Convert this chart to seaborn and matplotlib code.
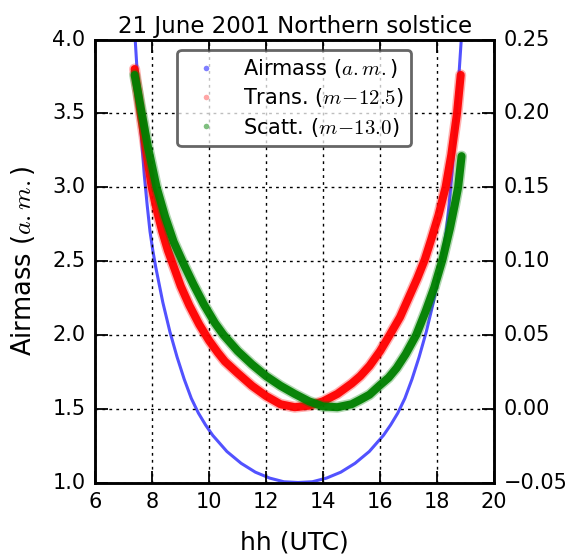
import matplotlib
matplotlib.use("Agg")
import matplotlib.pyplot as plt
from matplotlib.lines import Line2D
import seaborn as sns

# Airmass of the Sun through the day (UTC hours)
hours_am = [7.40, 7.52, 7.62, 7.72, 7.82, 7.92, 8.02, 8.12, 8.37, 8.62, 8.87,
            9.12, 9.37, 9.62, 9.87, 10.12, 10.62, 11.12, 11.62, 12.12, 12.62,
            13.12, 13.62, 14.12, 14.62, 15.12, 15.62, 16.12, 16.37, 16.62, 16.87,
            17.12, 17.37, 17.62, 17.87, 18.12, 18.22, 18.32, 18.42, 18.52, 18.62,
            18.72, 18.85]
airmass = [4.00, 3.62, 3.33, 3.08, 2.88, 2.70, 2.57, 2.46, 2.22, 2.02, 1.85,
           1.70, 1.57, 1.47, 1.39, 1.32, 1.21, 1.13, 1.07, 1.03, 1.005,
           1.00, 1.005, 1.03, 1.07, 1.13, 1.21, 1.32, 1.39, 1.47, 1.57,
           1.70, 1.85, 2.02, 2.22, 2.46, 2.57, 2.70, 2.88, 3.08, 3.33,
           3.62, 4.00]

# Transmitted-light magnitude offset (m - 12.5)
hours_tr = [7.38, 7.50, 7.59, 7.75, 7.98, 8.15, 8.35, 8.55, 8.72, 9.00, 9.30,
            9.65, 10.00, 10.30, 10.55, 11.00, 11.50, 12.00, 12.50, 13.00, 13.50,
            14.00, 14.50, 15.00, 15.30, 15.63, 16.00, 16.34, 16.70, 17.00, 17.30,
            17.57, 17.80, 18.05, 18.30, 18.50, 18.70, 18.83]
trans = [0.230, 0.213, 0.200, 0.179, 0.150, 0.135, 0.120, 0.107, 0.098, 0.083, 0.070,
         0.057, 0.046, 0.038, 0.032, 0.024, 0.0155, 0.0085, 0.003, 0.001, 0.002,
         0.005, 0.010, 0.017, 0.022, 0.029, 0.039, 0.050, 0.062, 0.075, 0.088,
         0.101, 0.115, 0.131, 0.150, 0.172, 0.200, 0.226]

# Scattered-light magnitude offset (m - 13.0)
hours_sc = [7.38, 7.50, 7.63, 7.85, 8.15, 8.45, 8.75, 9.10, 9.45, 9.80, 10.20,
            10.50, 11.00, 11.50, 12.00, 12.50, 13.00, 13.50, 14.00, 14.50, 15.00,
            15.30, 15.63, 16.00, 16.30, 16.58, 16.90, 17.27, 17.60, 17.90, 18.19,
            18.45, 18.62, 18.74, 18.86]
scatt = [0.226, 0.214, 0.200, 0.177, 0.150, 0.130, 0.113, 0.098, 0.084, 0.071, 0.058,
         0.050, 0.039, 0.030, 0.022, 0.0155, 0.010, 0.005, 0.0015, 0.001, 0.003,
         0.006, 0.0095, 0.016, 0.021, 0.0275, 0.037, 0.050, 0.066, 0.082, 0.101,
         0.122, 0.138, 0.150, 0.171]

x_ticks = [6, 8, 10, 12, 14, 16, 18, 20]
am_ticks = [1.0, 1.5, 2.0, 2.5, 3.0, 3.5, 4.0]
mag_ticks = [-0.05, 0.00, 0.05, 0.10, 0.15, 0.20, 0.25]

plt.style.use("classic")
plt.rcParams.update({
    "figure.facecolor": "white",
    "savefig.facecolor": "white",
    "font.family": ["DejaVu Sans"],
    "mathtext.fontset": "cm",
    "lines.solid_capstyle": "round",
})

fig = plt.figure(figsize=(5.77, 5.58), dpi=100)
ax = fig.add_axes([0.1652, 0.1353, 0.691, 0.7939])
ax2 = ax.twinx()

sns.lineplot(x=hours_am, y=airmass, ax=ax, color="blue", alpha=0.68, lw=2.2,
             sort=False, estimator=None)

# Each magnitude band: a faint wide halo under a solid core
for hrs, vals, col in ((hours_tr, trans, "red"), (hours_sc, scatt, "green")):
    sns.lineplot(x=hrs, y=vals, ax=ax2, color=col, alpha=0.3, lw=8.0,
                 sort=False, estimator=None)
    sns.lineplot(x=hrs, y=vals, ax=ax2, color=col, alpha=0.95, lw=5.8,
                 sort=False, estimator=None)

ax.set_xlim(6, 20)
ax.set_ylim(1.0, 4.0)
ax2.set_ylim(-0.05, 0.25)
ax.set_xticks(x_ticks)
ax.set_yticks(am_ticks)
ax2.set_yticks(mag_ticks)
ax.set_yticklabels([f"{v:.1f}" for v in am_ticks])
ax2.set_yticklabels([f"{v:.2f}".replace("-", "\u2212") for v in mag_ticks])

ax.grid(True, color="k", linestyle=(0, (2, 3)), lw=1.0)
ax2.grid(False)

ax.tick_params(direction="in", length=9, width=1.3, labelsize=15, pad=7,
               top=True, right=False)
ax2.tick_params(direction="in", length=9, width=1.3, labelsize=15, pad=7,
                right=True, left=False)
for a in (ax, ax2):
    for s in a.spines.values():
        s.set_linewidth(1.8)

ax.set_xlabel("hh (UTC)", fontsize=18, labelpad=13)
ax.set_ylabel("Airmass ($a.m.$)", fontsize=18.5, labelpad=11)
ax.set_title("21 June 2001 Northern solstice", fontsize=16.5, pad=5)

handles = [
    Line2D([], [], ls="", marker="o", ms=4, mew=0, color="blue", alpha=0.5),
    Line2D([], [], ls="", marker="o", ms=4, mew=0, color="red", alpha=0.35),
    Line2D([], [], ls="", marker="o", ms=4, mew=0, color="green", alpha=0.5),
]
labels = ["Airmass ($a.m.$)", "Trans. ($m\\!-\\!12.5$)", "Scatt. ($m\\!-\\!13.0$)"]
leg = ax2.legend(handles, labels, loc="upper center", numpoints=1, fontsize=15,
                 fancybox=True, framealpha=0.75, borderpad=0.35, labelspacing=0.3,
                 handletextpad=0.8, bbox_to_anchor=(0.499, 1.0))
leg.get_frame().set_edgecolor("0.2")
leg.get_frame().set_linewidth(2.0)

fig.savefig("out.png", dpi=100)
